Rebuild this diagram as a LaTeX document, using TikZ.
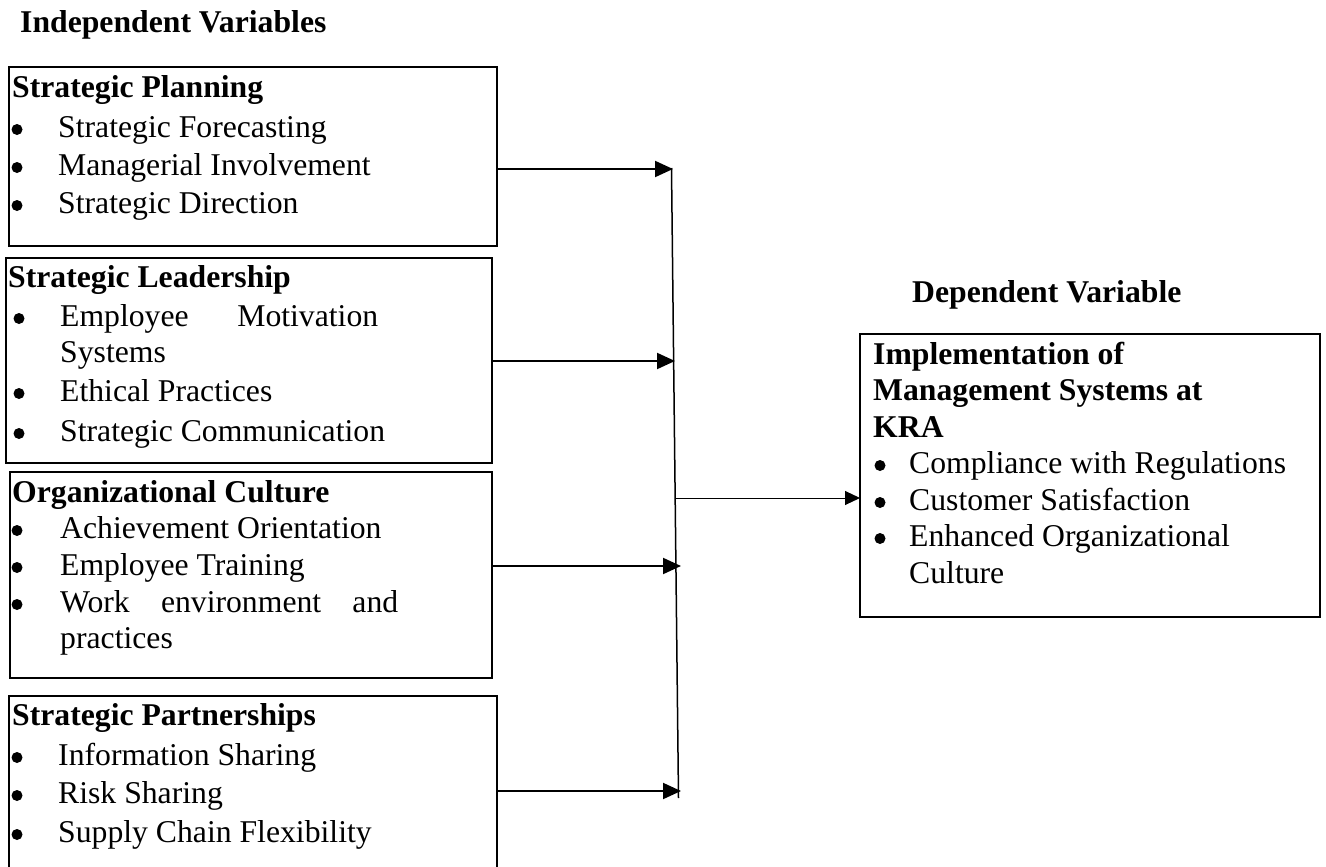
\documentclass[tikz,border=0pt]{standalone}
\usepackage{fontspec}
\setmainfont{Liberation Serif}
\usetikzlibrary{arrows.meta}
\begin{document}
\begin{tikzpicture}[x=1pt,y=-1pt,
  box/.style={draw, line width=1.4pt, anchor=north west, inner sep=0pt, outer sep=0pt},
  txt/.style={anchor=base west, inner sep=0pt, font=\fontsize{31.7}{38}\selectfont},
  hd/.style={anchor=base west, inner sep=0pt, font=\fontsize{31.7}{38}\selectfont\bfseries},
  bul/.style={circle, fill=black, inner sep=0pt, minimum size=11pt, yshift=7.5pt},
  link/.style={line width=2pt, -{Triangle[length=18pt,width=16pt]}},
  thinlink/.style={line width=1pt, -{Triangle[length=15pt,width=14pt]}},
]
\clip (0,0) rectangle (1326,867);
\fill[white] (0,0) rectangle (1326,867);

% headings
\node[hd] (hind) at (20,33) {Independent Variables};
\node[hd] (hdep) at (912,302) {Dependent Variable};

% boxes
\node[box, minimum width=488pt, minimum height=179pt] (b1) at (9,67) {};
\node[box, minimum width=486pt, minimum height=205pt] (b2) at (6,258) {};
\node[box, minimum width=482pt, minimum height=206pt] (b3) at (10,472) {};
\node[box, minimum width=488pt, minimum height=260pt] (b4) at (9,696) {};
\node[box, minimum width=460pt, minimum height=283pt] (rb) at (860,334) {};

% box 1
\node[hd] (t1h) at (12,97) {Strategic Planning};
\node[bul] (t1b1) at (17,137) {};
\node[txt] (t1a) at (58,137) {Strategic Forecasting};
\node[bul] (t1b2) at (17,175) {};
\node[txt] (t1b) at (58,175) {Managerial Involvement};
\node[bul] (t1b3) at (17,213) {};
\node[txt] (t1c) at (58,213) {Strategic Direction};

% box 2
\node[hd] (t2h) at (8,287) {Strategic Leadership};
\node[bul] (t2b1) at (19,326) {};
\node[txt] (t2a) at (60,326) {\makebox[318pt][s]{Employee Motivation}};
\node[txt] (t2a2) at (60,362) {Systems};
\node[bul] (t2b2) at (19,401) {};
\node[txt] (t2b) at (60,401) {Ethical Practices};
\node[bul] (t2b3) at (19,441) {};
\node[txt] (t2c) at (60,441) {Strategic Communication};

% box 3
\node[hd] (t3h) at (12,502) {Organizational Culture};
\node[bul] (t3b1) at (17,538) {};
\node[txt] (t3a) at (60,538) {Achievement Orientation};
\node[bul] (t3b2) at (17,575) {};
\node[txt] (t3b) at (60,575) {Employee Training};
\node[bul] (t3b3) at (17,612) {};
\node[txt] (t3c) at (60,612) {\makebox[338pt][s]{Work environment and}};
\node[txt] (t3c2) at (60,648) {practices};

% box 4
\node[hd] (t4h) at (12,725) {Strategic Partnerships};
\node[bul] (t4b1) at (17,765) {};
\node[txt] (t4a) at (58,765) {Information Sharing};
\node[bul] (t4b2) at (17,803) {};
\node[txt] (t4b) at (58,803) {Risk Sharing};
\node[bul] (t4b3) at (17,842) {};
\node[txt] (t4c) at (58,842) {Supply Chain Flexibility};

% right box
\node[hd] (rh1) at (873,364) {Implementation of};
\node[hd] (rh2) at (873,400) {Management Systems at};
\node[hd] (rh3) at (873,437) {KRA};
\node[bul] (rb1) at (880,473) {};
\node[txt] (ra) at (909,473) {Compliance with Regulations};
\node[bul] (rb2) at (880,510) {};
\node[txt] (rbb) at (909,510) {Customer Satisfaction};
\node[bul] (rb3) at (880,546) {};
\node[txt] (rc) at (909,546) {Enhanced Organizational};
\node[txt] (rc2) at (909,583) {Culture};

% connectors
\coordinate (vtop) at (671.5,168);
\coordinate (vbot) at (678.5,798);
\coordinate (a1) at (673,169);
\coordinate (a2) at (675,361);
\coordinate (a3) at (681,566);
\coordinate (a4) at (681,791);
\coordinate (am) at (675,498);

\draw[line width=1.5pt] (vtop) -- (vbot);
\draw[link] (b1.east |- a1) -- (a1);
\draw[link] (b2.east |- a2) -- (a2);
\draw[link] (b3.east |- a3) -- (a3);
\draw[link] (b4.east |- a4) -- (a4);
\draw[thinlink] (am) -- (rb.west |- am);
\end{tikzpicture}
\end{document}
